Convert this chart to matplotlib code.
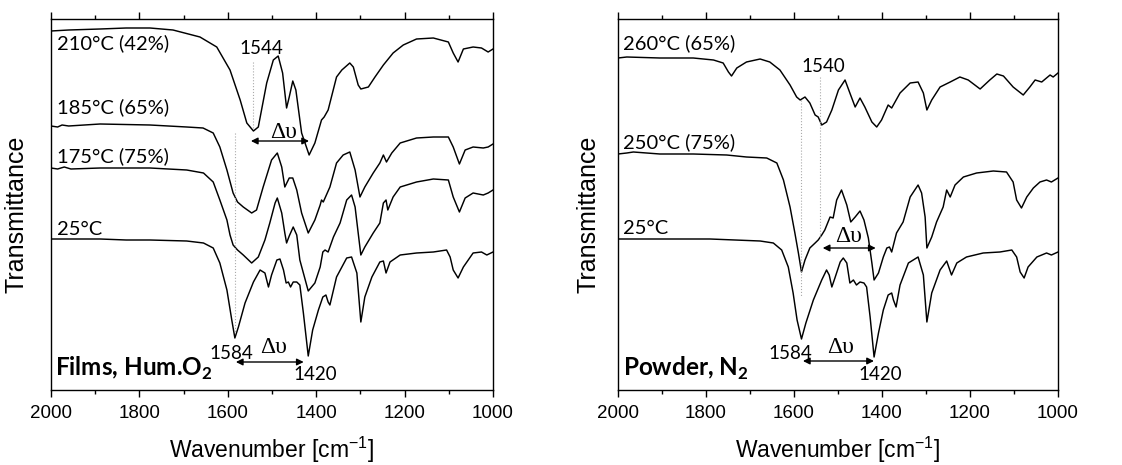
import matplotlib
matplotlib.use("Agg")
import matplotlib.pyplot as plt

plt.rcParams['mathtext.fontset'] = 'custom'
plt.rcParams['mathtext.rm'] = 'Liberation Sans'
plt.rcParams['mathtext.bf'] = 'Lato:bold'

# ---- data (wavenumber in cm-1, transmittance in arb. units) ----
# Films, humid O2
wn_210 = [2000, 1960, 1889, 1830, 1776, 1724, 1663, 1625, 1595, 1572, 1557, 1542, 1531, 1512, 1497,
          1486, 1476, 1467, 1461, 1453, 1446, 1433, 1416, 1403, 1388, 1382, 1373, 1354, 1342, 1324,
          1316, 1305, 1299, 1282, 1267, 1248, 1226, 1203, 1173, 1135, 1101, 1090, 1079, 1067, 1045,
          1026, 1011, 1000]
t_210 = [359, 360, 361, 362, 362, 360, 353, 343, 320, 290, 267, 259, 263, 307, 330,
         334, 317, 282, 293, 309, 300, 257, 235, 247, 270, 273, 280, 313, 320, 327,
         323, 305, 301, 303, 313, 325, 337, 345, 351, 352, 348, 337, 328, 341, 343,
         342, 338, 341]

wn_185 = [2000, 1985, 1975, 1960, 1889, 1776, 1693, 1656, 1633, 1618, 1602, 1588, 1578, 1565, 1546,
          1535, 1520, 1501, 1488, 1478, 1471, 1461, 1453, 1444, 1433, 1418, 1403, 1391, 1388, 1384,
          1369, 1354, 1339, 1324, 1312, 1301, 1290, 1271, 1256, 1248, 1241, 1229, 1210, 1173, 1135,
          1101, 1090, 1076, 1063, 1045, 1022, 1011, 1000]
t_185 = [264, 263, 265, 264, 266, 265, 263, 262, 257, 243, 220, 197, 188, 183, 177,
         180, 203, 230, 237, 223, 203, 212, 212, 200, 177, 157, 170, 185, 190, 188,
         203, 227, 235, 238, 220, 193, 203, 217, 227, 235, 228, 237, 247, 252, 253,
         253, 243, 226, 240, 243, 242, 243, 246]

wn_175 = [2000, 1985, 1970, 1955, 1889, 1776, 1693, 1655, 1633, 1618, 1602, 1595, 1588, 1578, 1565,
          1546, 1531, 1516, 1505, 1493, 1488, 1478, 1471, 1467, 1461, 1452, 1444, 1437, 1418, 1403,
          1391, 1385, 1380, 1373, 1361, 1346, 1331, 1320, 1312, 1305, 1299, 1290, 1271, 1256, 1248,
          1242, 1238, 1226, 1210, 1173, 1135, 1101, 1090, 1076, 1063, 1045, 1022, 1011, 1000]
t_175 = [222, 221, 223, 221, 222, 222, 220, 217, 208, 190, 170, 155, 145, 140, 135,
         127, 133, 150, 167, 187, 192, 177, 157, 147, 154, 163, 155, 130, 99, 107,
         123, 138, 140, 138, 153, 167, 190, 195, 183, 157, 135, 143, 157, 167, 187,
         190, 180, 193, 203, 208, 211, 210, 193, 178, 192, 197, 195, 197, 200]

wn_25 = [2000, 1950, 1889, 1830, 1776, 1693, 1655, 1633, 1618, 1602, 1591, 1584, 1576, 1561, 1542,
         1527, 1516, 1508, 1501, 1489, 1482, 1474, 1468, 1463, 1458, 1452, 1444, 1437, 1429, 1418,
         1408, 1395, 1385, 1378, 1373, 1369, 1354, 1331, 1320, 1308, 1299, 1290, 1274, 1256, 1248,
         1242, 1233, 1210, 1173, 1135, 1105, 1097, 1090, 1079, 1067, 1045, 1026, 1014, 1000]
t_25 = [151, 151, 151, 150, 150, 149, 147, 142, 127, 100, 70, 52, 63, 87, 108,
        120, 117, 103, 115, 130, 131, 120, 107, 108, 103, 108, 108, 105, 77, 34,
        60, 80, 93, 95, 88, 85, 113, 132, 133, 117, 68, 93, 113, 128, 129,
        117, 128, 135, 137, 138, 140, 133, 120, 112, 123, 137, 138, 135, 138]

# Powder, N2
wn_260 = [2000, 1980, 1905, 1829, 1783, 1761, 1749, 1742, 1730, 1708, 1677, 1655, 1632, 1609, 1594,
          1586, 1575, 1564, 1552, 1545, 1537, 1526, 1514, 1499, 1484, 1473, 1461, 1450, 1439, 1423,
          1412, 1401, 1386, 1378, 1359, 1336, 1318, 1306, 1298, 1287, 1268, 1245, 1223, 1204, 1177,
          1155, 1139, 1124, 1102, 1079, 1064, 1052, 1037, 1018, 1011, 1000]
t_260 = [332, 333, 332, 332, 330, 327, 318, 314, 322, 328, 331, 328, 320, 305, 293,
         290, 293, 287, 275, 273, 265, 268, 280, 300, 310, 297, 283, 292, 283, 268,
         263, 270, 285, 282, 297, 307, 308, 297, 280, 290, 303, 308, 313, 310, 301,
         310, 316, 314, 303, 295, 303, 310, 308, 315, 313, 317]

wn_250 = [2000, 1980, 1965, 1905, 1829, 1753, 1708, 1662, 1639, 1624, 1609, 1598, 1590, 1583, 1575,
          1564, 1552, 1545, 1537, 1530, 1518, 1511, 1503, 1492, 1480, 1471, 1461, 1450, 1441, 1431,
          1423, 1418, 1408, 1397, 1389, 1383, 1378, 1367, 1352, 1336, 1318, 1310, 1302, 1298, 1287,
          1276, 1261, 1253, 1245, 1234, 1215, 1185, 1147, 1117, 1102, 1094, 1083, 1071, 1056, 1041,
          1026, 1015, 1000]
t_250 = [236, 237, 238, 236, 236, 235, 233, 232, 227, 210, 183, 157, 137, 118, 130,
         142, 147, 150, 155, 160, 173, 172, 190, 200, 185, 168, 173, 179, 170, 152,
         127, 110, 117, 133, 142, 143, 138, 157, 168, 193, 205, 197, 173, 142, 153,
         168, 183, 200, 193, 205, 213, 217, 219, 218, 208, 190, 182, 193, 202, 208,
         210, 208, 212]

wn_25p = [2000, 1950, 1905, 1791, 1677, 1647, 1628, 1613, 1602, 1593, 1583, 1573, 1556, 1537, 1526,
          1520, 1514, 1507, 1495, 1488, 1480, 1473, 1465, 1458, 1450, 1441, 1435, 1427, 1418, 1408,
          1397, 1386, 1378, 1374, 1368, 1359, 1340, 1318, 1306, 1298, 1287, 1268, 1253, 1242, 1230,
          1208, 1170, 1132, 1105, 1094, 1086, 1077, 1068, 1048, 1026, 1015, 1000]
t_25p = [151, 151, 151, 151, 149, 147, 140, 123, 97, 70, 51, 67, 90, 110, 120,
         115, 103, 112, 128, 132, 127, 107, 110, 105, 108, 107, 103, 73, 33, 57,
         80, 95, 97, 90, 83, 105, 127, 133, 115, 68, 97, 120, 129, 115, 127,
         133, 137, 138, 140, 133, 118, 112, 123, 133, 137, 135, 138]

labels_films = ['210°C (42%)', '185°C (65%)', '175°C (75%)', '25°C']
labels_powder = ['260°C (65%)', '250°C (75%)', '25°C']

LAB = 'Lato'
fig = plt.figure(figsize=(11.22, 4.65), dpi=100)
ax1 = fig.add_axes([51 / 1122, 75 / 465, 442 / 1122, 371 / 465])
ax2 = fig.add_axes([618 / 1122, 75 / 465, 440 / 1122, 371 / 465])

for ax in (ax1, ax2):
    ax.set_xlim(2000, 1000)
    ax.set_ylim(0, 371)
    ax.set_yticks([])
    ax.set_xticks([2000, 1800, 1600, 1400, 1200, 1000])
    ax.set_xticks([1900, 1700, 1500, 1300, 1100], minor=True)
    ax.tick_params(axis='x', which='both', direction='out', top=True, bottom=True,
                   labelsize=13.5, pad=6, colors='black')
    ax.tick_params(axis='x', which='major', length=5, width=1)
    ax.tick_params(axis='x', which='minor', length=3, width=1)
    for lab in ax.get_xticklabels():
        lab.set_family('Liberation Sans')
    for s in ax.spines.values():
        s.set_linewidth(1.0)

arrow = dict(arrowstyle='<|-|>', color='black', lw=1, mutation_scale=10)

# left panel
for wn, t in [(wn_210, t_210), (wn_185, t_185), (wn_175, t_175), (wn_25, t_25)]:
    ax1.plot(wn, t, color='black', lw=1.05)
for txt, y in zip(labels_films, [347, 283, 234, 161]):
    ax1.text(1987, y, txt, family=LAB, fontsize=14.5, va='center', ha='left')

ax1.plot([1544, 1544], [328, 262], color='#aaaaaa', lw=0.8, ls=':')
ax1.plot([1584, 1584], [257, 57], color='#aaaaaa', lw=0.8, ls=':')
ax1.text(1525, 342, '1544', family=LAB, fontsize=13.5, ha='center', va='center')
ax1.annotate('', xy=(1410, 249), xytext=(1554, 249), arrowprops=arrow)
ax1.text(1474, 258, 'Δυ', family='Liberation Serif', fontsize=17, ha='center', va='center')
ax1.annotate('', xy=(1422, 28), xytext=(1588, 28), arrowprops=arrow)
ax1.text(1497, 43, 'Δυ', family='Liberation Serif', fontsize=17, ha='center', va='center')
ax1.text(1591, 37, '1584', family=LAB, fontsize=13.5, ha='center', va='center')
ax1.text(1403, 16, '1420', family=LAB, fontsize=13.5, ha='center', va='center')
ax1.text(1991, 22, r'Films, Hum.O$_\mathbf{2}$', family=LAB, fontweight='bold',
         fontsize=17.5, ha='left', va='center')

# right panel
for wn, t in [(wn_260, t_260), (wn_250, t_250), (wn_25p, t_25p)]:
    ax2.plot(wn, t, color='black', lw=1.05)
for txt, y in zip(labels_powder, [347, 248, 162]):
    ax2.text(1988, y, txt, family=LAB, fontsize=14.5, va='center', ha='left')

ax2.plot([1540, 1540], [313, 153], color='#aaaaaa', lw=0.8, ls=':')
ax2.plot([1584, 1584], [290, 93], color='#aaaaaa', lw=0.8, ls=':')
ax2.text(1533, 323, '1540', family=LAB, fontsize=13.5, ha='center', va='center')
ax2.annotate('', xy=(1408, 142), xytext=(1541, 142), arrowprops=arrow)
ax2.text(1477, 154, 'Δυ', family='Liberation Serif', fontsize=17, ha='center', va='center')
ax2.annotate('', xy=(1412, 29), xytext=(1586, 29), arrowprops=arrow)
ax2.text(1495, 43, 'Δυ', family='Liberation Serif', fontsize=17, ha='center', va='center')
ax2.text(1609, 37, '1584', family=LAB, fontsize=13.5, ha='center', va='center')
ax2.text(1405, 16, '1420', family=LAB, fontsize=13.5, ha='center', va='center')
ax2.text(1988, 22, r'Powder, N$_\mathbf{2}$', family=LAB, fontweight='bold',
         fontsize=17.5, ha='left', va='center')

# axis titles
for xc in (17, 588):
    fig.text(xc / 1122, 1 - 214 / 465, 'Transmittance', rotation=90, family='Liberation Sans',
             fontsize=18, ha='center', va='center')
for xc in (272, 838):
    fig.text(xc / 1122, 1 - 450 / 465, 'Wavenumber [cm$^{-1}$]', family='Liberation Sans',
             fontsize=16.5, ha='center', va='center')

fig.savefig('out.png', dpi=100, facecolor='white')
